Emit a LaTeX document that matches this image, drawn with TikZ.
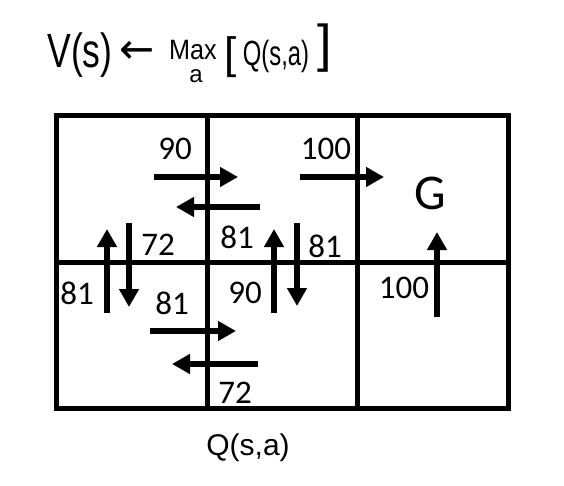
\documentclass[tikz,border=0pt]{standalone}
\usepackage{fontspec}
\setmainfont{Carlito}
\newfontfamily\handfont{Liberation Sans}
\newfontfamily\qfont{Liberation Sans}
\newfontfamily\symfont{DejaVu Sans}
\usetikzlibrary{arrows.meta}
\tikzset{
  gridline/.style={line width=5pt, line cap=rect},
  qarrow/.style={line width=5.5pt, -{Triangle[length=18pt,width=19pt]}},
  qval/.style={font=\fontsize{33}{33}\selectfont, inner sep=0pt},
  hand/.style={inner sep=0pt},
}
\begin{document}
\begin{tikzpicture}[x=1pt,y=-1pt]
\useasboundingbox (0,0) rectangle (564,486);
\fill[white] (0,0) rectangle (564,486);

% header (handwritten formula)
\node[hand, font=\handfont\fontsize{48}{48}\selectfont] (hv) at (80,55) {\scalebox{0.74}[1]{V(s)}};
\node[hand, font=\symfont\fontsize{42}{42}\selectfont] (harr) at (137,52) {←};
\node[hand, font=\handfont\fontsize{28}{28}\selectfont] (hmax) at (193,50) {\scalebox{0.9}[1]{Max}};
\node[hand, font=\handfont\fontsize{24}{24}\selectfont, anchor=base] (ha) at (196,83) {a};
\node[hand, font=\handfont\fontsize{44}{44}\selectfont] (hlb) at (231,57) {[};
\node[hand, font=\handfont\fontsize{35}{35}\selectfont] (hq) at (276,56) {\scalebox{0.68}[1]{Q(s,a)}};
\node[hand, font=\handfont\fontsize{52}{52}\selectfont] (hrb) at (325,48) {]};

% grid
\draw[gridline] (56,116) rectangle (508,408);
\draw[gridline] (207,116) -- (207,408);
\draw[gridline] (357,116) -- (357,408);
\draw[gridline] (56,262) -- (508,262);

% top row horizontal arrows
\draw[qarrow] (154,177) -- (238,177);
\draw[qarrow] (260,207) -- (176,207);
\draw[qarrow] (300,177) -- (384,177);

% vertical arrows
\draw[qarrow] (107,313) -- (107,229);
\draw[qarrow] (129,223) -- (129,307);
\draw[qarrow] (274,313) -- (274,229);
\draw[qarrow] (297,223) -- (297,306);
\draw[qarrow] (437,317) -- (437,232);

% bottom row horizontal arrows
\draw[qarrow] (150,331) -- (236,331);
\draw[qarrow] (258,364) -- (172,364);

% values
\node[qval] (v1) at (175,149) {90};
\node[qval] (v2) at (326,149) {100};
\node[inner sep=0pt, font=\fontsize{50}{50}\selectfont] (g) at (430,193) {G};
\node[qval] (v3) at (158,245) {72};
\node[qval] (v4) at (237,237) {81};
\node[qval] (v5) at (325,246) {81};
\node[qval] (v6) at (77,293) {81};
\node[qval] (v7) at (172,303) {81};
\node[qval] (v8) at (245,293) {90};
\node[qval] (v9) at (404,288) {100};
\node[qval] (v10) at (235,393) {72};

\node[inner sep=0pt, font=\qfont\fontsize{30}{30}\selectfont] (cap) at (248,448) {Q(s,a)};
\end{tikzpicture}
\end{document}
